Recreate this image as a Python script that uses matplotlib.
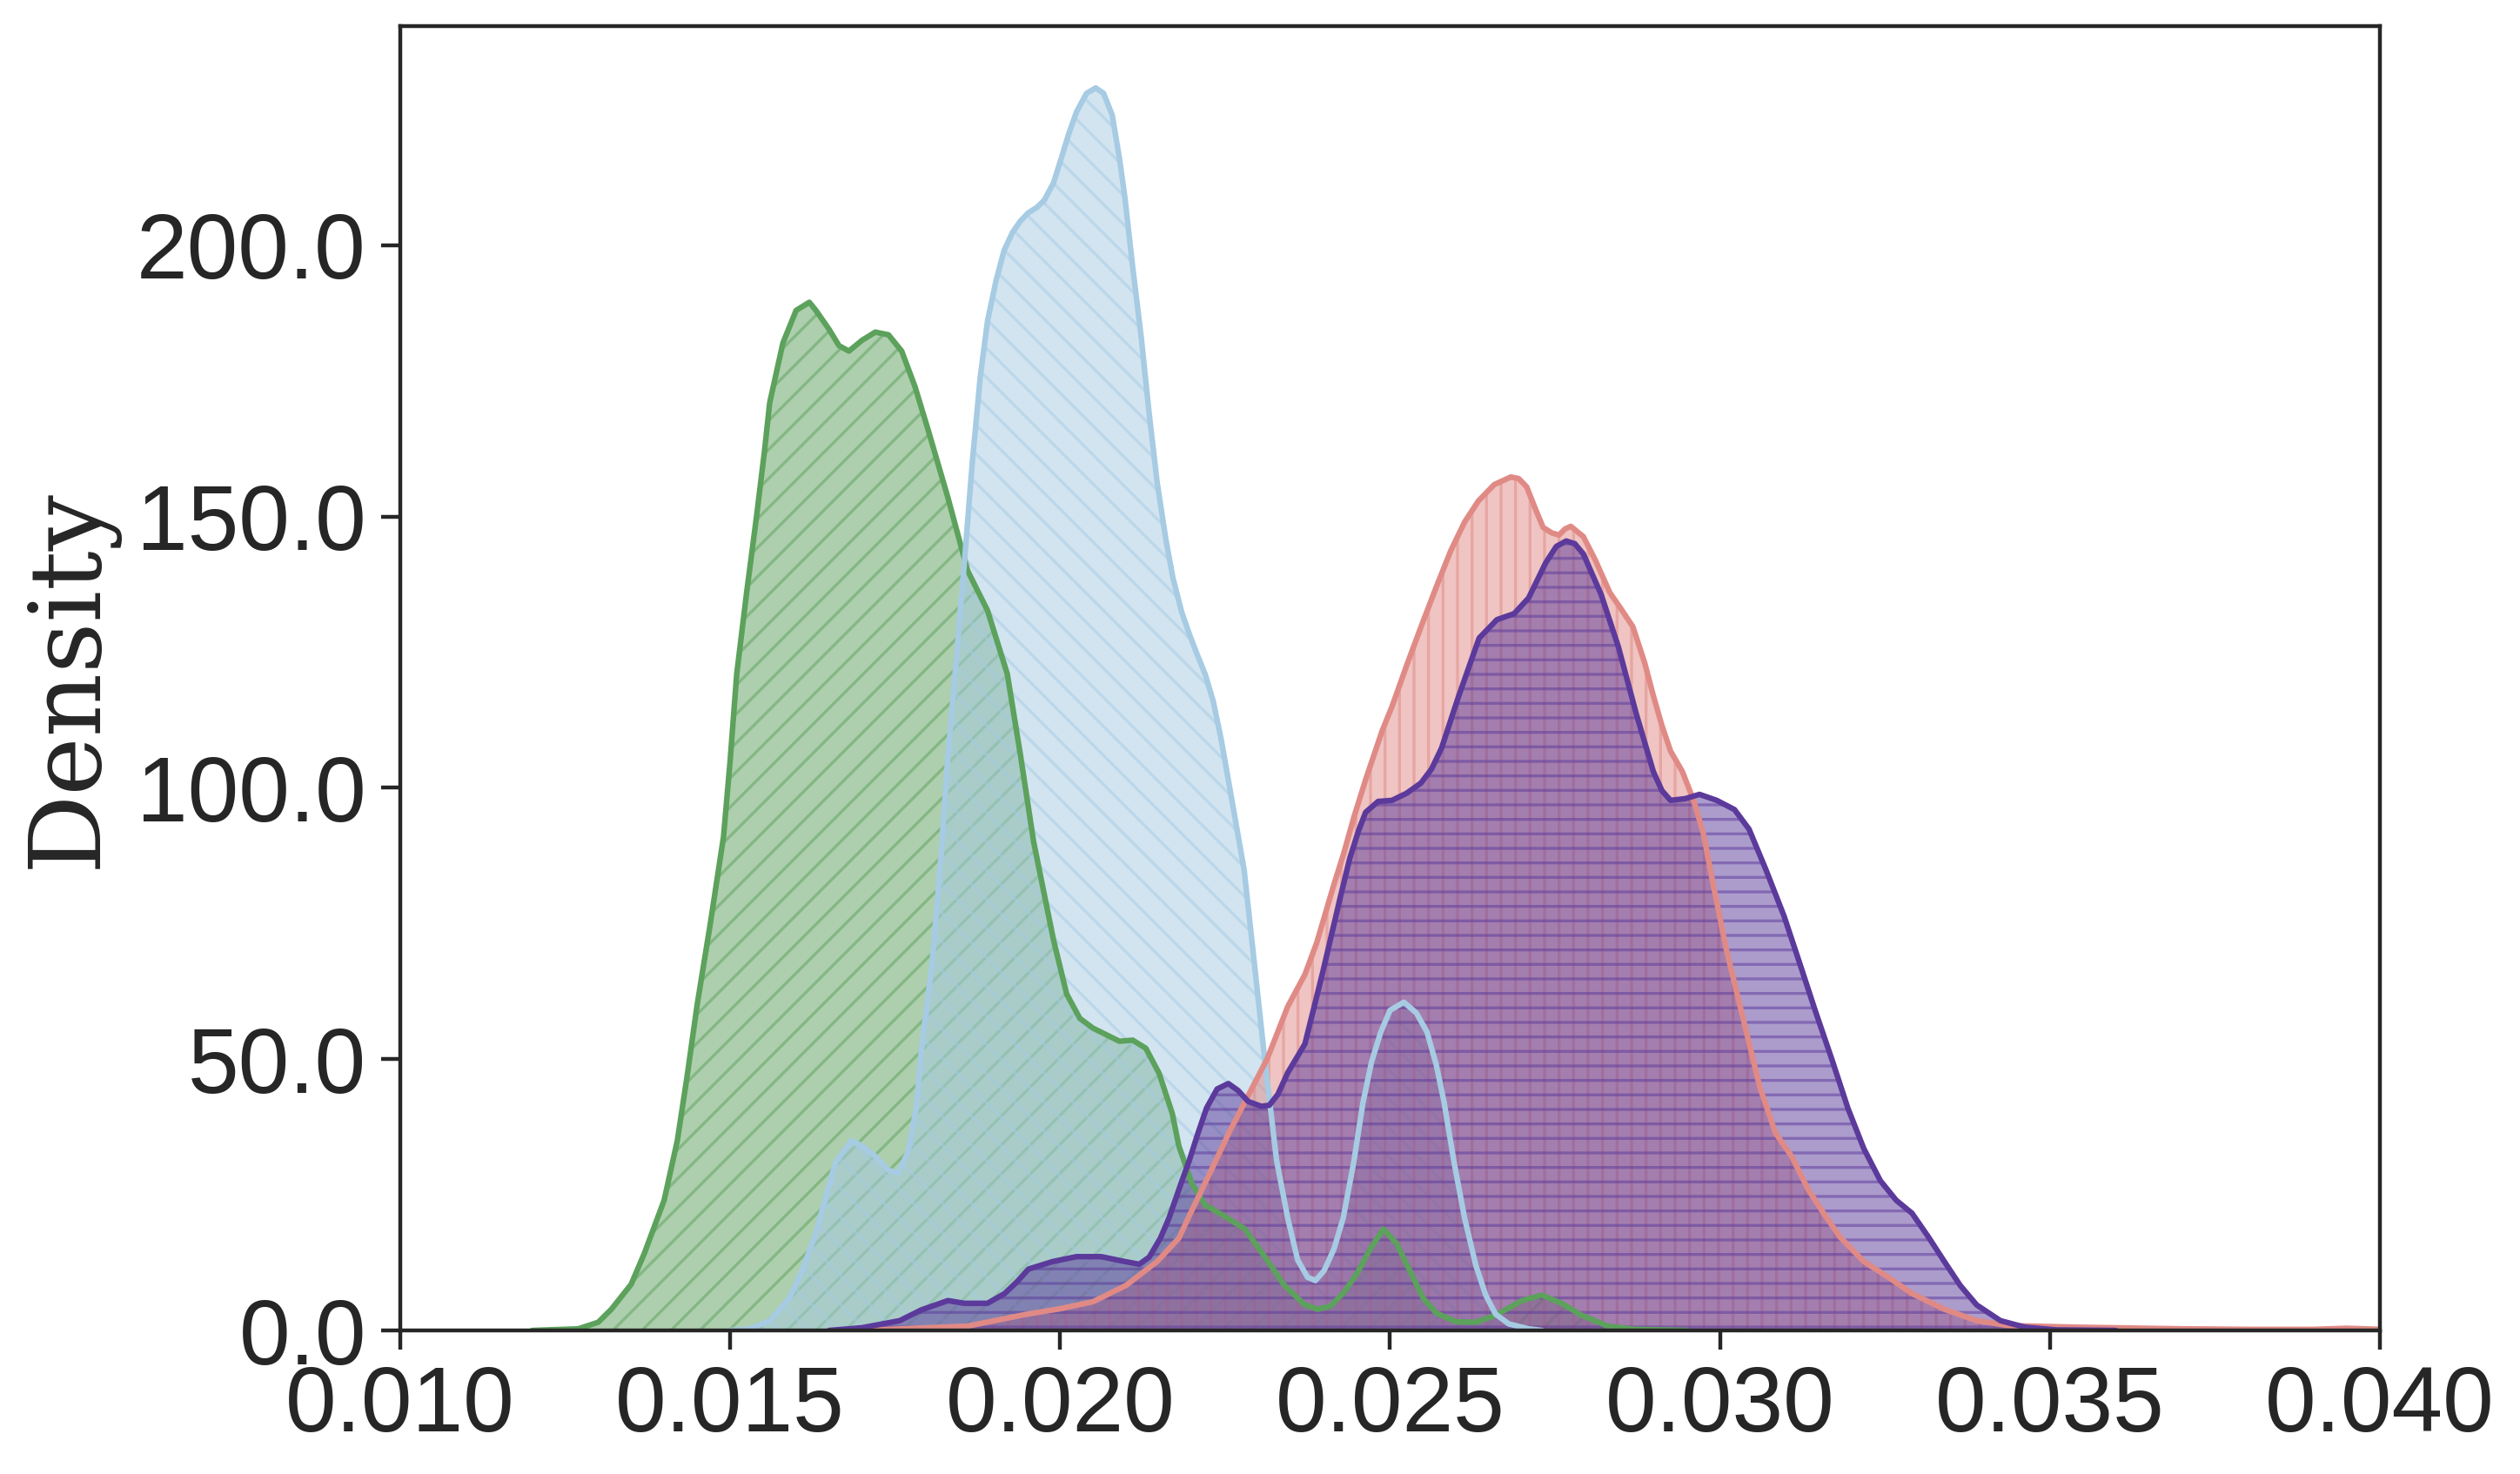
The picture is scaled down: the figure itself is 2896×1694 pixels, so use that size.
import matplotlib
matplotlib.use("Agg")
import matplotlib.pyplot as plt
from matplotlib.ticker import FormatStrFormatter

# density curves
green_x = [0.0120, 0.0127, 0.0130, 0.0132, 0.0135, 0.0137, 0.0140, 0.0142, 0.01435, 0.0145,
           0.0147, 0.0149, 0.0150, 0.0151, 0.01525, 0.0154, 0.01552, 0.0156, 0.0158, 0.0160,
           0.0162, 0.0163, 0.0165, 0.01665, 0.0168, 0.0170, 0.0172, 0.0174, 0.0176, 0.0178,
           0.0180, 0.0183, 0.0186, 0.0189, 0.0192, 0.0194, 0.0196, 0.0199, 0.0201, 0.0203,
           0.0205, 0.0209, 0.0211, 0.0213, 0.0215, 0.0217, 0.0218, 0.0220, 0.0222, 0.0225,
           0.0228, 0.0231, 0.0234, 0.0237, 0.0239, 0.0241, 0.0243, 0.0245, 0.0247, 0.0249,
           0.0251, 0.0253, 0.0255, 0.0257, 0.0260, 0.0263, 0.0266, 0.0270, 0.0273, 0.0276,
           0.0279, 0.0283, 0.0287, 0.0295]
green_y = [0.0, 0.3, 1.5, 3.9, 8.5, 14.2, 24.0, 35.0, 47.0, 60.0,
           75.0, 91.0, 105.0, 121.0, 136.0, 150.0, 162.0, 171.0, 182.0, 188.0,
           189.5, 188.0, 184.5, 181.5, 180.5, 182.5, 184.0, 183.5, 180.5, 174.0,
           166.0, 153.5, 140.0, 132.7, 121.0, 106.0, 90.0, 72.0, 62.0, 57.5,
           55.7, 53.3, 53.5, 52.0, 47.4, 40.0, 34.0, 27.0, 23.1, 21.0,
           18.7, 13.6, 8.3, 4.8, 3.9, 4.5, 7.0, 10.5, 15.0, 18.7,
           16.0, 11.0, 6.0, 3.2, 1.6, 1.5, 2.8, 5.5, 6.5, 5.0,
           2.8, 0.8, 0.2, 0.0]

blue_x = [0.0150, 0.0153, 0.0156, 0.0159, 0.0161, 0.0163, 0.01648, 0.0166, 0.01684, 0.0170,
          0.01721, 0.0174, 0.01755, 0.0177, 0.01782, 0.0179, 0.01806, 0.0182, 0.0183, 0.01843,
          0.01855, 0.01867, 0.01879, 0.0189, 0.01903, 0.01915, 0.01928, 0.0194, 0.01952, 0.01965,
          0.01976, 0.0199, 0.02001, 0.02013, 0.02025, 0.0204, 0.02054, 0.02066, 0.02079, 0.0209,
          0.02098, 0.0211, 0.02123, 0.02135, 0.02147, 0.0216, 0.02171, 0.02184, 0.02196, 0.02208,
          0.0222, 0.02232, 0.02244, 0.0226, 0.02279, 0.02295, 0.0231, 0.02328, 0.02345, 0.0236,
          0.02375, 0.02387, 0.0240, 0.02415, 0.02429, 0.02445, 0.02459, 0.02472, 0.02486, 0.0250,
          0.02521, 0.0254, 0.02556, 0.0257, 0.02582, 0.02597, 0.02613, 0.0263, 0.02645, 0.0266,
          0.0268, 0.0271, 0.0273]
blue_y = [0.0, 0.3, 1.8, 6.0, 11.3, 18.0, 26.0, 31.0, 35.0, 34.0,
          32.0, 29.5, 29.0, 33.0, 41.0, 52.0, 67.6, 88.0, 106.0, 124.0,
          141.6, 160.0, 175.7, 186.0, 193.5, 199.0, 202.4, 204.5, 206.0, 207.0,
          208.3, 211.5, 215.7, 220.5, 224.6, 228.0, 229.0, 228.0, 224.0, 216.0,
          209.0, 196.0, 183.0, 169.0, 156.4, 146.0, 138.7, 132.5, 128.3, 124.5,
          120.9, 116.0, 109.0, 98.0, 84.8, 67.0, 50.1, 31.4, 20.7, 13.0,
          9.8, 9.2, 11.0, 15.0, 20.7, 31.0, 42.0, 49.5, 55.0, 59.0,
          60.5, 58.5, 55.0, 49.0, 42.0, 31.0, 20.7, 12.0, 6.5, 3.0,
          1.2, 0.3, 0.0]

pink_x = [0.0170, 0.0176, 0.0186, 0.0195, 0.0200, 0.0205, 0.0210, 0.02147, 0.0218, 0.02196,
          0.02227, 0.02257, 0.02286, 0.02314, 0.02345, 0.02371, 0.02389, 0.02415, 0.0243, 0.02445,
          0.02463, 0.02488, 0.02503, 0.02525, 0.02547, 0.0257, 0.02592, 0.02613, 0.02634, 0.02658,
          0.02683, 0.02695, 0.02707, 0.0272, 0.02732, 0.02745, 0.02756, 0.02765, 0.02774, 0.02793,
          0.02811, 0.02833, 0.0285, 0.02868, 0.02886, 0.02899, 0.02912, 0.02925, 0.02943, 0.0296,
          0.02975, 0.0299, 0.0301, 0.03036, 0.0306, 0.03084, 0.03109, 0.03133, 0.03157, 0.03182,
          0.03218, 0.03255, 0.03291, 0.0334, 0.03389, 0.03437, 0.0354, 0.0370, 0.0380, 0.0390,
          0.0395, 0.0400]
pink_y = [0.0, 0.3, 0.8, 3.0, 4.0, 5.3, 8.3, 12.7, 17.0, 21.2,
          29.0, 36.7, 43.5, 50.1, 59.7, 65.6, 71.5, 82.2, 88.0, 94.5,
          101.5, 110.5, 115.0, 122.5, 129.7, 137.0, 143.7, 149.0, 152.9, 155.9,
          157.3, 157.0, 155.5, 151.5, 148.0, 147.0, 146.6, 147.7, 148.2, 146.3,
          142.0, 136.0, 133.0, 129.7, 123.0, 117.0, 111.5, 106.8, 103.0, 97.7,
          91.5, 82.0, 70.0, 57.0, 45.0, 36.4, 32.0, 26.1, 21.6, 17.2,
          12.7, 9.8, 6.8, 3.9, 1.8, 0.9, 0.6, 0.3, 0.2, 0.2,
          0.4, 0.2]

purple_x = [0.0165, 0.0170, 0.01757, 0.0179, 0.0183, 0.01855, 0.0189, 0.01916, 0.01935, 0.01952,
            0.01989, 0.02025, 0.02062, 0.02098, 0.0212, 0.02135, 0.02152, 0.02165, 0.02183, 0.02196,
            0.02208, 0.02222, 0.02238, 0.02255, 0.0227, 0.02285, 0.02305, 0.02317, 0.0233, 0.02345,
            0.02371, 0.02398, 0.02424, 0.02439, 0.02452, 0.02463, 0.02482, 0.02503, 0.02525, 0.02547,
            0.02563, 0.02578, 0.02604, 0.02635, 0.02662, 0.02688, 0.0271, 0.02736, 0.02752, 0.02767,
            0.0278, 0.02793, 0.0282, 0.02846, 0.02873, 0.02899, 0.02912, 0.02925, 0.02947, 0.02969,
            0.02995, 0.03022, 0.03044, 0.0307, 0.03097, 0.03121, 0.03145, 0.0317, 0.03194, 0.03218,
            0.03243, 0.03267, 0.03291, 0.03316, 0.0334, 0.03364, 0.03389, 0.03425, 0.03462, 0.0351,
            0.0360]
purple_y = [0.0, 0.5, 1.8, 3.8, 5.5, 5.0, 5.0, 6.8, 9.0, 11.3,
            12.7, 13.6, 13.6, 12.7, 12.2, 13.5, 17.0, 20.7, 27.0, 31.4,
            36.0, 41.0, 44.5, 45.5, 44.2, 42.2, 41.3, 41.5, 43.5, 47.5,
            52.8, 66.0, 79.5, 87.0, 92.0, 95.5, 97.5, 97.7, 99.0, 100.9,
            103.5, 107.3, 116.9, 127.6, 131.0, 132.1, 135.0, 141.5, 144.5, 145.5,
            145.0, 143.1, 135.6, 126.0, 113.7, 103.0, 99.5, 97.7, 98.0, 98.8,
            97.7, 96.0, 92.4, 84.8, 76.4, 67.6, 58.7, 49.8, 40.9, 33.5,
            27.6, 24.0, 21.6, 17.2, 12.7, 8.3, 4.7, 1.8, 0.6, 0.1,
            0.0]

x_ticks = [0.010, 0.015, 0.020, 0.025, 0.030, 0.035, 0.040]
y_ticks = [0, 50, 100, 150, 200]

TEXT = '#262626'


def draw_density(ax, x, y, color, hatch):
    ax.fill_between(x, y, 0, facecolor=color, edgecolor=color, alpha=0.5,
                    hatch=hatch, linewidth=0, zorder=1)
    ax.plot(x, y, color=color, linewidth=2.3, solid_joinstyle='round',
            solid_capstyle='round', zorder=2)


def main():
    plt.rcParams['hatch.linewidth'] = 1.2
    fig = plt.figure(figsize=(14.48, 8.47), dpi=200)
    ax = fig.add_axes([0.1588, 0.0974, 0.7856, 0.8849])

    draw_density(ax, green_x, green_y, '#5ca15c', '//')
    draw_density(ax, blue_x, blue_y, '#a6cbe3', '\\\\')
    draw_density(ax, pink_x, pink_y, '#e08a86', '||')
    draw_density(ax, purple_x, purple_y, '#5b3a9b', '--')

    ax.set_xlim(0.010, 0.040)
    ax.set_ylim(0, 240.4)
    ax.set_xticks(x_ticks)
    ax.set_yticks(y_ticks)
    ax.xaxis.set_major_formatter(FormatStrFormatter('%.3f'))
    ax.yaxis.set_major_formatter(FormatStrFormatter('%.1f'))
    ax.tick_params(axis='both', which='major', labelsize=38, length=8, width=1.6,
                   pad=6, colors=TEXT)
    for label in ax.get_xticklabels() + ax.get_yticklabels():
        label.set_fontfamily('Liberation Sans')
    for spine in ax.spines.values():
        spine.set_linewidth(1.6)
        spine.set_color(TEXT)

    ax.set_ylabel('Density', fontsize=41, family='DejaVu Serif', color=TEXT, labelpad=8)

    fig.savefig('out.png', dpi=200)


if __name__ == "__main__":
    main()
